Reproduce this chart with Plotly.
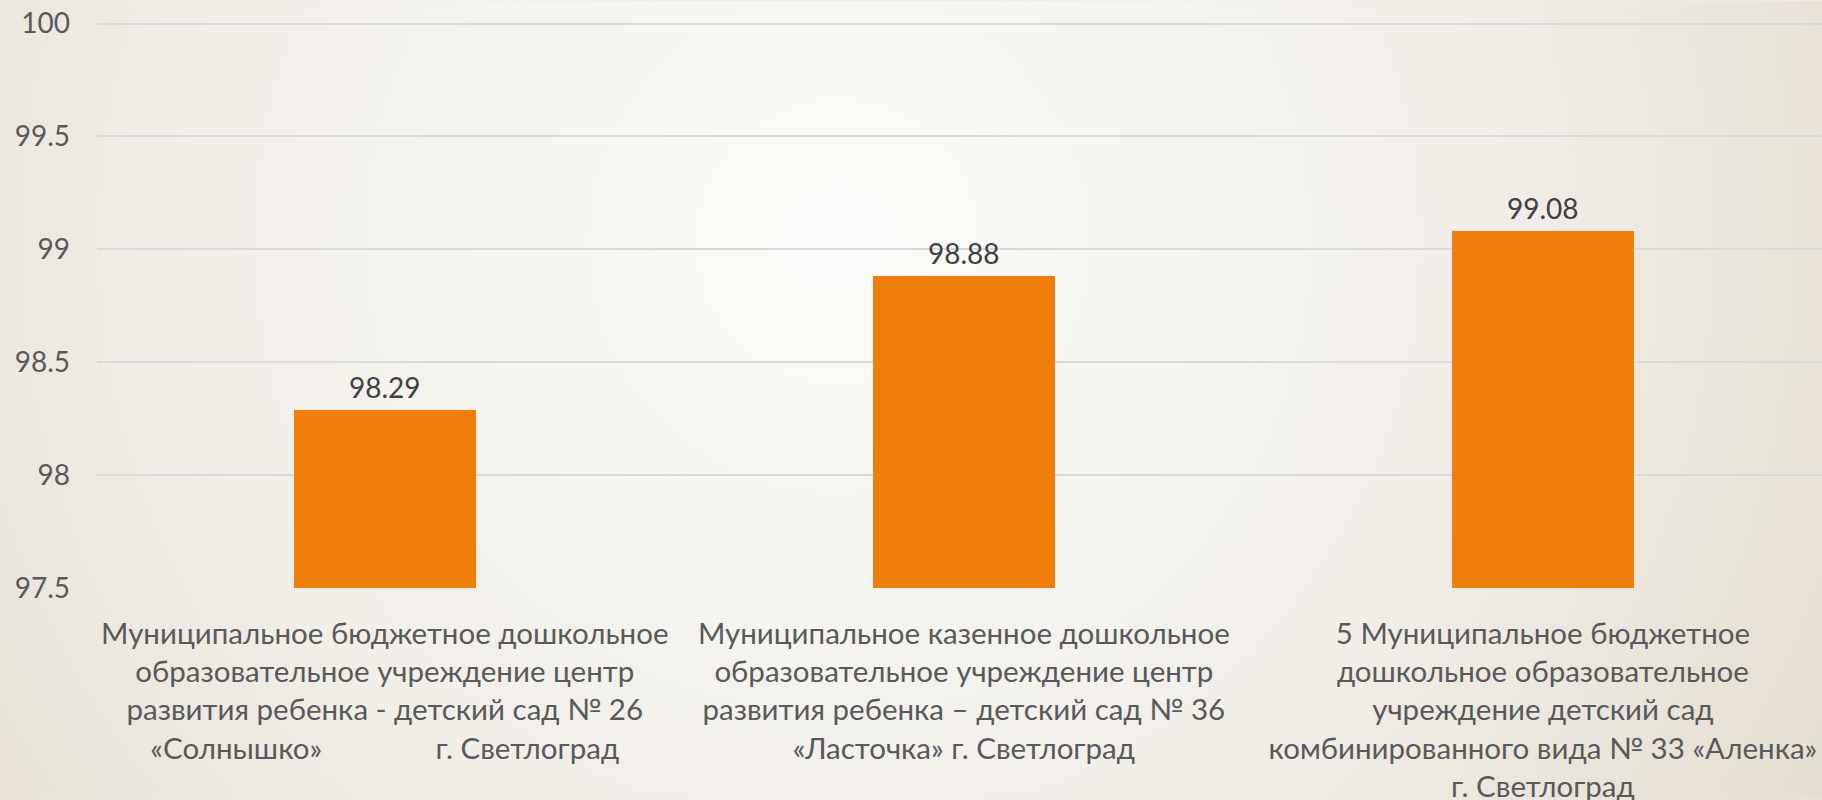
import base64
import plotly.graph_objects as go

# ---- data ----
categories = [
    "Муниципальное бюджетное дошкольное<br>образовательное учреждение центр<br>развития ребенка - детский сад № 26<br>«Солнышко»" + "\u00a0" * 15 + "г. Светлоград",
    "Муниципальное казенное дошкольное<br>образовательное учреждение центр<br>развития ребенка – детский сад № 36<br>«Ласточка» г. Светлоград",
    "5 Муниципальное бюджетное<br>дошкольное образовательное<br>учреждение детский сад<br>комбинированного вида № 33 «Аленка»<br>г. Светлоград",
]
values = [98.29, 98.88, 99.08]
y_ticks = [97.5, 98, 98.5, 99, 99.5, 100]
y_tick_labels = ["97.5", "98", "98.5", "99", "99.5", "100"]

W, H = 1822, 800
ML, MR, MT, MB = 97, 0, 18.5, 212

svg = f'''<svg xmlns="http://www.w3.org/2000/svg" width="{W}" height="{H}" viewBox="0 0 {W} {H}" preserveAspectRatio="none">
<defs><radialGradient id="g" cx="{0.46*W}" cy="{0.3*H}" r="{0.78*W}" gradientUnits="userSpaceOnUse">
<stop offset="0" stop-color="#fbfbf9"/><stop offset="0.45" stop-color="#f1eee8"/><stop offset="1" stop-color="#ddd4c4"/></radialGradient></defs>
<rect x="0" y="0" width="{W}" height="{H}" fill="url(#g)"/></svg>'''
src = "data:image/svg+xml;base64," + base64.b64encode(svg.encode()).decode()

pw = W - ML - MR
ph = H - MT - MB

x_idx = list(range(len(categories)))

fig = go.Figure()
fig.add_trace(go.Bar(
    x=x_idx, y=values, width=0.314,
    marker=dict(color="#EF7E0B", line=dict(width=0)),
    hoverinfo="skip",
))

annotations = [
    dict(x=xi, y=v, xref="x", yref="y", text=f"{v:.2f}", showarrow=False,
         xanchor="center", yanchor="bottom", yshift=4,
         font=dict(family="Lato", size=28, color="#404040"))
    for xi, v in zip(x_idx, values)
]

fig.update_layout(
    width=W, height=H,
    margin=dict(l=ML, r=MR, t=MT, b=MB),
    paper_bgcolor="#efece6",
    plot_bgcolor="rgba(0,0,0,0)",
    showlegend=False,
    font=dict(family="Lato", color="#595959"),
    annotations=annotations,
    images=[dict(source=src, xref="paper", yref="paper",
                 x=-ML / pw, y=1 + MT / ph, sizex=W / pw, sizey=H / ph,
                 xanchor="left", yanchor="top", sizing="stretch", layer="below")],
    xaxis=dict(
        range=[-0.497, 2.482], tickvals=x_idx, ticktext=categories,
        showgrid=False, zeroline=False, showline=False, ticks="",
        tickfont=dict(family="Lato", size=29.5, color="#595959"),
        ticklabelstandoff=25, automargin=False,
    ),
    yaxis=dict(
        range=[97.5 - 1e-4, 100.02], tickvals=y_ticks, ticktext=y_tick_labels,
        showgrid=True, gridcolor="#d9d9d9", gridwidth=1.5,
        zeroline=False, showline=False, ticks="",
        tickfont=dict(family="Lato", size=28, color="#595959"),
        ticklabelstandoff=26, automargin=False,
    ),
    bargap=0,
)

fig.write_html(
    "out.html",
    config={"displayModeBar": False},
    post_script="document.body.style.margin='0';document.body.style.overflow='hidden';document.body.style.background='#efece6';",
)
